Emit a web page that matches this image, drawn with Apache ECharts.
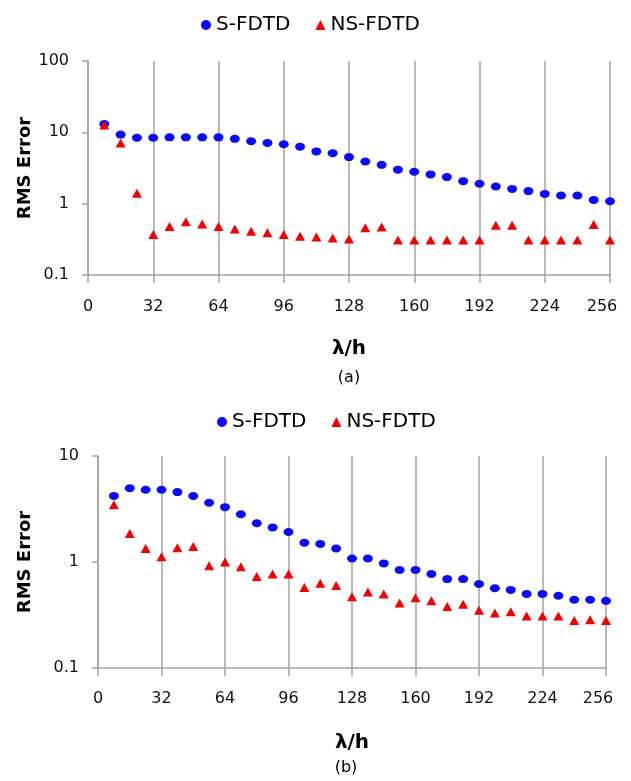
<!DOCTYPE html>
<html>
<head>
<meta charset="utf-8">
<script src="https://cdn.jsdelivr.net/npm/echarts@6/dist/echarts.min.js"></script>
<style>
  html, body { margin: 0; padding: 0; background: #fff; }
  #chart { width: 631px; height: 781px; }
</style>
</head>
<body>
<div id="chart"></div>
<script>
// λ/h sample points (same for both panels)
var lambdaH = [8, 16, 24, 32, 40, 48, 56, 64, 72, 80, 88, 96, 104, 112, 120, 128,
  136, 144, 152, 160, 168, 176, 184, 192, 200, 208, 216, 224, 232, 240, 248, 256];
var xTicks = [0, 32, 64, 96, 128, 160, 192, 224, 256];

// panel (a)
var sFdtdA = [13.1, 9.3, 8.4, 8.4, 8.5, 8.5, 8.5, 8.5, 8.1, 7.5, 7.1, 6.8, 6.3, 5.4, 5.1, 4.5,
  3.9, 3.5, 3.0, 2.8, 2.57, 2.36, 2.07, 1.9, 1.74, 1.61, 1.5, 1.37, 1.3, 1.3, 1.13, 1.08];
var nsFdtdA = [12.7, 7.1, 1.4, 0.37, 0.48, 0.56, 0.52, 0.48, 0.44, 0.41, 0.39, 0.37, 0.35, 0.34, 0.33, 0.32,
  0.46, 0.47, 0.31, 0.31, 0.31, 0.31, 0.31, 0.31, 0.5, 0.5, 0.31, 0.31, 0.31, 0.31, 0.51, 0.31];

// panel (b)
var sFdtdB = [4.2, 4.96, 4.8, 4.8, 4.57, 4.19, 3.62, 3.29, 2.82, 2.32, 2.12, 1.92, 1.52, 1.48, 1.34, 1.08,
  1.08, 0.97, 0.84, 0.84, 0.77, 0.69, 0.69, 0.62, 0.565, 0.545, 0.5, 0.5, 0.48, 0.44, 0.44, 0.43];
var nsFdtdB = [3.47, 1.86, 1.34, 1.12, 1.36, 1.4, 0.92, 1.0, 0.9, 0.73, 0.77, 0.77, 0.575, 0.63, 0.6, 0.47,
  0.52, 0.5, 0.41, 0.46, 0.43, 0.38, 0.4, 0.35, 0.33, 0.34, 0.31, 0.31, 0.31, 0.28, 0.285, 0.28];

var FONT = "DejaVu Sans";
var BLUE = "#0a0aff";
var RED = "#f50000";
var GRID_GRAY = "#a3a3a3";

function pairs(xs, ys) {
  return xs.map(function (x, i) { return [x, ys[i]]; });
}

function xAxisFor(idx, labelMargin, titleGap) {
  return {
    type: "value",
    gridIndex: idx,
    min: 0,
    max: 256,
    interval: 32,
    name: "λ/h",
    nameLocation: "middle",
    nameGap: titleGap,
    nameMoveOverlap: false,
    nameTextStyle: { fontFamily: FONT, fontSize: 20, fontWeight: "bold", color: "#000" },
    axisLine: { lineStyle: { color: GRID_GRAY, width: 1.5 } },
    axisTick: { show: true, inside: false, length: 8, lineStyle: { color: GRID_GRAY, width: 1.5 } },
    axisLabel: {
      margin: labelMargin,
      fontFamily: FONT,
      fontSize: 16,
      color: "#111",
      customValues: xTicks,
      // last label sits a little inside the plot, as in the original
      formatter: function (v) { return v === 256 ? "{last|" + v + "}" : String(v); },
      rich: { last: { fontFamily: FONT, fontSize: 16, color: "#111", padding: [0, 16, 0, 0] } }
    },
    splitLine: { show: true, lineStyle: { color: GRID_GRAY, width: 1.5 } }
  };
}

function yAxisFor(idx, maxV, titleGap) {
  return {
    type: "log",
    logBase: 10,
    gridIndex: idx,
    min: 0.1,
    max: maxV,
    name: "RMS Error",
    nameLocation: "middle",
    nameGap: titleGap,
    nameMoveOverlap: false,
    nameTextStyle: { fontFamily: FONT, fontSize: 18, fontWeight: "bold", color: "#000" },
    axisLine: { show: true, lineStyle: { color: GRID_GRAY, width: 1.5 } },
    axisTick: { show: true, inside: false, length: 6, lineStyle: { color: GRID_GRAY, width: 1.5 } },
    axisLabel: {
      margin: 19,
      fontFamily: FONT,
      fontSize: 16,
      color: "#111",
      formatter: function (v) { return String(+v.toPrecision(3)); }
    },
    splitLine: { show: false }
  };
}

function legendFor(left, top) {
  return {
    left: left,
    top: top,
    itemWidth: 10,
    itemHeight: 10,
    itemGap: 25,
    textStyle: { fontFamily: FONT, fontSize: 20, color: "#000" },
    data: [
      { name: "S-FDTD", icon: "circle", itemStyle: { color: BLUE } },
      { name: "NS-FDTD", icon: "triangle", itemStyle: { color: RED } }
    ],
    selectedMode: false
  };
}

function scatter(name, axisIdx, values, symbol, color, size) {
  return {
    name: name, type: "scatter", xAxisIndex: axisIdx, yAxisIndex: axisIdx,
    symbol: symbol, symbolSize: size, itemStyle: { color: color, opacity: 1 },
    data: pairs(lambdaH, values)
  };
}

var chart = echarts.init(document.getElementById("chart"), null, { renderer: "canvas" });

chart.setOption({
  backgroundColor: "#fff",
  animation: false,
  legend: [legendFor(196, 10), legendFor(212, 407)],
  grid: [
    { left: 88, right: 21, top: 61, height: 214 },
    { left: 98, right: 25, top: 456, height: 212 }
  ],
  xAxis: [xAxisFor(0, 24, 64), xAxisFor(1, 23, 65)],
  yAxis: [yAxisFor(0, 100, 54), yAxisFor(1, 10, 64)],
  series: [
    scatter("S-FDTD", 0, sFdtdA, "circle", BLUE, [10, 8]),
    scatter("NS-FDTD", 0, nsFdtdA, "triangle", RED, [10, 9]),
    scatter("S-FDTD", 1, sFdtdB, "circle", BLUE, [10, 8]),
    scatter("NS-FDTD", 1, nsFdtdB, "triangle", RED, [10, 9])
  ],
  graphic: [
    {
      type: "text", x: 349, y: 378,
      style: { text: "(a)", fontFamily: FONT, fontSize: 16, fill: "#000", align: "center", verticalAlign: "middle" }
    },
    {
      type: "text", x: 346, y: 768,
      style: { text: "(b)", fontFamily: FONT, fontSize: 16, fill: "#000", align: "center", verticalAlign: "middle" }
    }
  ]
});
</script>
</body>
</html>
